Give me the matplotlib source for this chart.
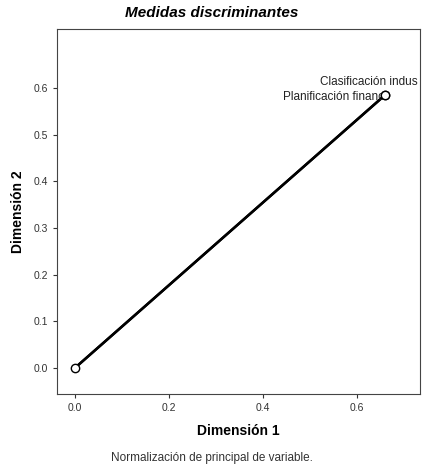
import matplotlib
matplotlib.use("Agg")
import matplotlib.pyplot as plt

plt.rcParams["font.family"] = ["Liberation Sans", "DejaVu Sans"]

variables = ["Clasificación indus", "Planificación financ"]
dim1 = [0.660, 0.659]
dim2 = [0.585, 0.584]
label_offsets = [(-47, 9.5), (-73, -1.5)]

fig = plt.figure(figsize=(4.23, 4.68), dpi=100)
ax = fig.add_axes([0.135, 0.158, 0.858, 0.78])

for x, y in zip(dim1, dim2):
    ax.plot([0, x], [0, y], color="black", lw=1.8, zorder=2)
ax.plot([0] + dim1, [0] + dim2, linestyle="none", marker="o", ms=6,
        mfc="white", mec="black", mew=1.0, zorder=5)

for name, x, y, off in zip(variables, dim1, dim2, label_offsets):
    ax.annotate(name, (x, y), xytext=off, textcoords="offset points",
                ha="left", va="center", fontsize=8.5, color="#222222",
                zorder=4)

ax.set_xlim(-0.038, 0.734)
ax.set_ylim(-0.056, 0.726)
ax.set_xticks([0.0, 0.2, 0.4, 0.6])
ax.set_yticks([0.0, 0.1, 0.2, 0.3, 0.4, 0.5, 0.6])
ax.set_xticklabels(["0.0", "0.2", "0.4", "0.6"])
ax.set_yticklabels(["0.0", "0.1", "0.2", "0.3", "0.4", "0.5", "0.6"])
ax.tick_params(labelsize=7.5, direction="out", length=3, width=0.8, colors="#333333")
for s in ax.spines.values():
    s.set_linewidth(0.8)
    s.set_color("#444444")
    s.set_linestyle((0, (4, 1)))

ax.set_xlabel("Dimensión 1", fontsize=10, fontweight="bold", labelpad=8)
ax.set_ylabel("Dimensión 2", fontsize=10, fontweight="bold", labelpad=6)
fig.text(0.5, 0.972, "Medidas discriminantes", ha="center", va="center",
         fontsize=11, fontweight="bold", style="italic")
fig.text(0.5, 0.021, "Normalización de principal de variable.", ha="center",
         va="center", fontsize=8.5, color="#333333")

fig.savefig("out.png", dpi=100)
